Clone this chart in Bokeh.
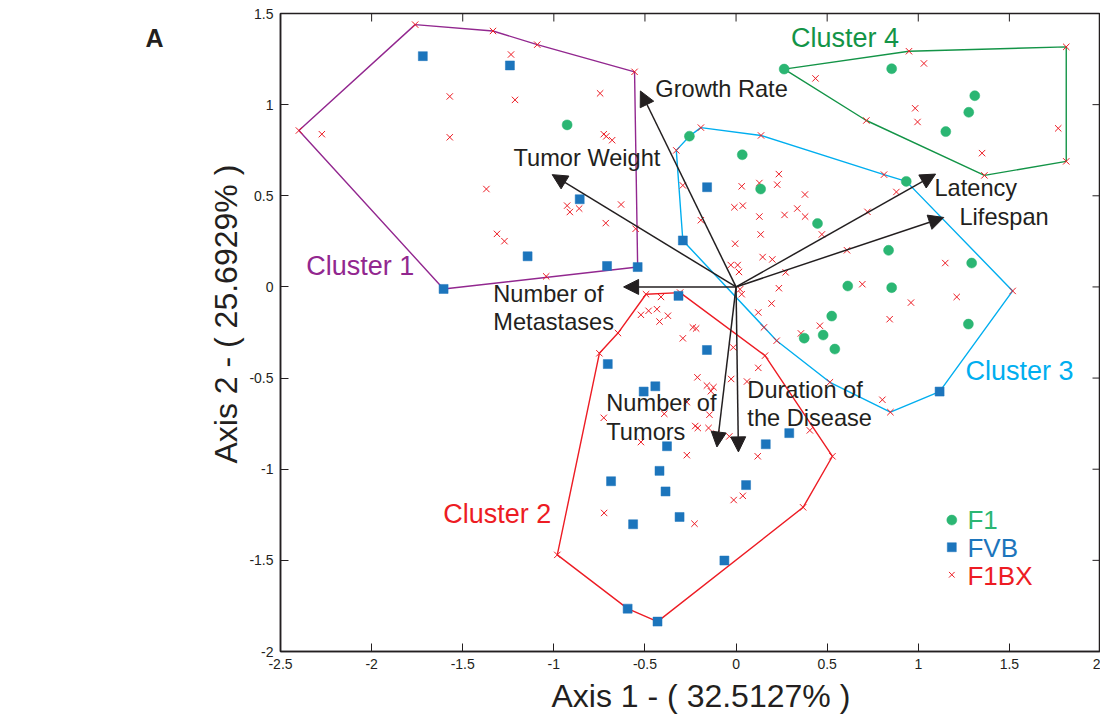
import math
from bokeh.plotting import figure
from bokeh.models import (Range1d, LinearAxis, FixedTicker, Label, Arrow, NormalHead,
                          ColumnDataSource, Title)
from bokeh.embed import file_html
from bokeh.resources import INLINE

FONT = "Liberation Sans"
INK = "#231f20"

# ---------------- data ----------------
x_ticks = [-2.5, -2, -1.5, -1, -0.5, 0, 0.5, 1, 1.5, 2]
x_tick_labels = ["-2.5", "-2", "-1.5", "-1", "-0.5", "0", "0.5", "1", "1.5", "2"]
y_ticks = [-2, -1.5, -1, -0.5, 0, 0.5, 1, 1.5]
y_tick_labels = ["-2", "-1.5", "-1", "-0.5", "0", "0.5", "1", "1.5"]

x_title = "Axis 1 - ( 32.5127% )"
y_title = "Axis 2 - ( 25.6929% )"
panel_letter = "A"

groups = ["F1", "FVB", "F1BX"]

f1_x = [-0.927, 0.264, 0.854, 1.310, 1.277, 1.151, 0.934, -0.256, 0.034, 0.135,
        0.447, 0.837, 1.293, 0.613, 0.854, 0.525, 0.478, 0.374, 0.542, 1.275]
f1_y = [0.889, 1.195, 1.197, 1.049, 0.958, 0.852, 0.579, 0.827, 0.725, 0.537,
        0.348, 0.201, 0.131, 0.005, -0.004, -0.160, -0.264, -0.281, -0.341, -0.204]

fvb_x = [-1.719, -1.241, -0.858, -1.144, -0.708, -0.540, -1.605, -0.159, -0.292, -0.316,
         -0.160, -0.704, -0.443, -0.507, -0.379, 0.163, 0.292, -0.420, -0.686, -0.387,
         0.055, -0.565, -0.310, -0.064, -0.431, -0.595, 1.117]
fvb_y = [1.266, 1.215, 0.481, 0.168, 0.115, 0.109, -0.011, 0.547, 0.255, -0.049,
         -0.346, -0.423, -0.545, -0.574, -0.874, -0.863, -0.802, -1.009, -1.066, -1.122,
         -1.087, -1.302, -1.262, -1.501, -1.836, -1.765, -0.574]

f1bx_xy = [
    (-1.761, 1.439), (-1.334, 1.404), (-1.091, 1.329), (-0.557, 1.180), (-2.399, 0.858),
    (-1.235, 1.275), (-1.571, 1.045), (-1.213, 1.026), (-0.746, 1.062), (-2.273, 0.838),
    (-1.571, 0.821), (-0.726, 0.838), (-0.712, 0.826), (-0.680, 0.805), (-1.370, 0.537),
    (-0.927, 0.446), (-0.912, 0.411), (-0.861, 0.430), (-0.631, 0.452), (-0.715, 0.350),
    (-0.551, 0.319), (-1.312, 0.291), (-1.271, 0.251), (-1.042, 0.058),
    (0.949, 1.293), (1.812, 1.317), (1.812, 0.689), (1.363, 0.612), (0.715, 0.913),
    (1.031, 1.226), (0.983, 0.980), (0.996, 0.905), (1.768, 0.870), (1.350, 0.734),
    (0.436, 1.144),
    (0.812, 0.616), (0.137, 0.831), (-0.193, 0.874), (-0.328, 0.749), (1.518, -0.022),
    (0.847, -0.687), (0.515, -0.523), (0.223, -0.295), (0.880, 0.521), (0.128, 0.570),
    (0.235, 0.619), (0.226, 0.561), (0.031, 0.552), (0.037, 0.446), (0.378, 0.507),
    (0.336, 0.430), (0.266, 0.395), (0.379, 0.386), (0.128, 0.386), (0.471, 0.288),
    (0.135, 0.288), (0.721, 0.412), (0.609, 0.201), (0.146, 0.164), (0.199, 0.151),
    (0.272, 0.080), (1.148, 0.131), (0.693, 0.015), (0.960, -0.086), (1.211, -0.055),
    (0.843, -0.177), (0.460, -0.213), (0.356, -0.255), (0.803, -0.619), (0.235, -0.007),
    (0.195, -0.091), (0.122, -0.140), (0.153, -0.222), (-0.292, 0.557), (-0.009, 0.437),
    (-0.193, 0.366), (-0.005, 0.237), (-0.029, 0.120), (0.009, 0.120), (0.016, 0.082),
    (0.022, -0.013), (0.031, -0.040),
    (-0.494, -0.040), (-0.307, -0.031), (0.159, -0.377), (0.529, -0.929), (0.368, -1.209),
    (-0.981, -1.470), (-0.750, -0.364), (-0.648, -0.253), (-0.412, -0.055), (-0.522, -0.153),
    (-0.480, -0.131), (-0.434, -0.122), (-0.420, -0.190), (-0.374, -0.158), (-0.237, -0.222),
    (-0.219, -0.228), (-0.292, -0.282), (-0.015, -0.332), (0.122, -0.444), (-0.027, -0.505),
    (0.060, -0.519), (-0.212, -0.496), (-0.160, -0.541), (-0.124, -0.550), (-0.138, -0.572),
    (-0.270, -0.632), (-0.394, -0.696), (-0.146, -0.701), (-0.726, -0.718), (-0.224, -0.763),
    (-0.210, -0.774), (-0.151, -0.774), (-0.106, -0.805), (-0.037, -0.820), (-0.522, -0.851),
    (-0.270, -0.923), (0.119, -0.929), (0.405, -0.787), (0.037, -1.146), (-0.013, -1.169),
    (-0.724, -1.240), (-0.228, -1.299),
]
f1bx_x = [p_[0] for p_ in f1bx_xy]
f1bx_y = [p_[1] for p_ in f1bx_xy]

cluster_names = ["Cluster 1", "Cluster 2", "Cluster 3", "Cluster 4"]
hull_x = [
    [-1.761, -1.334, -1.091, -0.557, -0.540, -1.605, -2.399],
    [-0.494, -0.307, 0.159, 0.529, 0.368, -0.431, -0.595, -0.981, -0.750, -0.648],
    [-0.292, 0.223, 0.515, 0.847, 1.117, 1.518, 0.934, 0.812, 0.137, -0.193, -0.256, -0.328],
    [0.264, 0.949, 1.812, 1.812, 1.363, 0.715],
]
hull_y = [
    [1.439, 1.404, 1.329, 1.180, 0.109, -0.011, 0.858],
    [-0.040, -0.031, -0.377, -0.929, -1.209, -1.836, -1.765, -1.470, -0.364, -0.253],
    [0.255, -0.295, -0.523, -0.687, -0.574, -0.022, 0.579, 0.616, 0.831, 0.874, 0.827, 0.749],
    [1.195, 1.293, 1.317, 0.689, 0.612, 0.913],
]

variables = ["Growth Rate", "Tumor Weight", "Number of\nMetastases", "Latency",
             "Lifespan", "Number of\nTumors", "Duration of\nthe Disease"]
loading_x = [-0.525, -1.009, -0.617, 1.095, 1.140, -0.105, 0.013]
loading_y = [1.075, 0.616, 0.000, 0.619, 0.381, -0.878, -0.905]

# ---------------- styles / layout ----------------
C_F1 = "#2bb673"
C_FVB = "#1c75bc"
C_F1BX = "#ed1c24"
cluster_colors = ["#92278f", "#ed1c24", "#00aeef", "#139447"]
cluster_label_pos = [(-2.359, 0.113), (-1.607, -1.244), (1.259, -0.461), (0.301, 1.366)]
var_label_pos = [(-0.443, 1.087), (-1.221, 0.706), (-1.332, -0.037), (1.089, 0.541),
                 (1.226, 0.382), (-0.712, -0.637), (0.062, -0.565)]

x_rng = Range1d(-2.5, 2)
y_rng = Range1d(-2, 1.5)

p = figure(frame_width=820, frame_height=638, x_range=x_rng, y_range=y_rng,
           output_backend="svg", toolbar_location=None,
           min_border_left=280, min_border_right=0, min_border_top=13, min_border_bottom=70)
p.grid.visible = False
p.outline_line_color = INK
p.outline_line_width = 1.5
p.background_fill_color = "white"
p.border_fill_color = "white"

p.xaxis.ticker = FixedTicker(ticks=x_ticks)
p.xaxis.major_label_overrides = dict(zip(x_ticks, x_tick_labels))
p.yaxis.ticker = FixedTicker(ticks=y_ticks)
p.yaxis.major_label_overrides = dict(zip(y_ticks, y_tick_labels))
for ax in p.axis:
    ax.major_tick_in = 8
    ax.major_tick_out = 0
    ax.minor_tick_line_color = None
    ax.axis_line_color = INK
    ax.axis_line_width = 1.5
    ax.major_tick_line_color = INK
    ax.major_tick_line_width = 1
    ax.major_label_text_font = FONT
    ax.major_label_text_font_size = "14px"
    ax.major_label_text_color = INK
    ax.major_label_standoff = 7

# axis titles as side titles, placed like the original (slightly off-centre)
p.add_layout(Title(text=x_title, align="left", offset=271, standoff=8,
                   text_font=FONT, text_font_size="32px", text_font_style="normal",
                   text_color=INK), "below")
p.add_layout(Title(text=y_title, align="left", offset=188, standoff=5,
                   text_font=FONT, text_font_size="32px", text_font_style="normal",
                   text_color=INK), "left")

# panel letter, carried by an outer left axis with a single labelled tick
letter_y = 1.366
ax_letter = LinearAxis(ticker=FixedTicker(ticks=[letter_y]),
                       major_label_overrides={letter_y: panel_letter},
                       axis_line_color=None, major_tick_line_color=None,
                       minor_tick_line_color=None, major_tick_in=0, major_tick_out=0,
                       major_label_standoff=40, major_label_text_font=FONT,
                       major_label_text_font_size="25px", major_label_text_font_style="bold",
                       major_label_text_color=INK)
p.add_layout(ax_letter, "left")

# inward ticks on the top and right edges of the box
p.ray(x=x_ticks, y=[y_rng.end] * len(x_ticks), length=8, length_units="screen",
      angle=-math.pi / 2, line_color=INK, line_width=1)
p.ray(x=[x_rng.end] * len(y_ticks), y=y_ticks, length=8, length_units="screen",
      angle=math.pi, line_color=INK, line_width=1)

# hulls
for hx, hy, col in zip(hull_x, hull_y, cluster_colors):
    p.line(hx + hx[:1], hy + hy[:1], line_color=col, line_width=1.4)

# points
p.scatter(f1bx_x, f1bx_y, marker="x", size=9, line_color=C_F1BX, line_width=1)
p.scatter(fvb_x, fvb_y, marker="square", size=9, fill_color=C_FVB, line_color=C_FVB, line_width=0.5)
p.scatter(f1_x, f1_y, marker="circle", size=10, fill_color=C_F1, line_color=C_F1, line_width=0.5)

# loadings arrows
asrc = ColumnDataSource(dict(x0=[0.0] * len(loading_x), y0=[0.0] * len(loading_y),
                             x1=loading_x, y1=loading_y))
p.add_layout(Arrow(x_start="x0", y_start="y0", x_end="x1", y_end="y1", source=asrc,
                   line_color=INK, line_width=1.5,
                   end=NormalHead(size=15, fill_color=INK, line_color=INK, line_width=1)))

for name, (lx, ly) in zip(variables, var_label_pos):
    for i, line in enumerate(name.split("\n")):
        p.add_layout(Label(x=lx, y=ly, y_offset=-28.5 * i, text=line, text_font=FONT,
                           text_font_size="23.6px", text_color=INK,
                           text_align="left", text_baseline="alphabetic"))

for name, (lx, ly), col in zip(cluster_names, cluster_label_pos, cluster_colors):
    p.add_layout(Label(x=lx, y=ly, text=name, text_font=FONT, text_font_size="27px",
                       text_color=col, text_align="left", text_baseline="alphabetic"))

# legend (manual, coloured text)
leg_colors = [C_F1, C_FVB, C_F1BX]
leg_markers = ["circle", "square", "x"]
leg_sizes = [10, 9, 8]
leg_mx = 1.184
leg_my = [-1.279, -1.428, -1.579]
leg_ty = [-1.280, -1.430, -1.586]
for g, c, m, s, my, ty in zip(groups, leg_colors, leg_markers, leg_sizes, leg_my, leg_ty):
    if m == "x":
        p.scatter([leg_mx], [my], marker=m, size=s, line_color=c, line_width=1)
    else:
        p.scatter([leg_mx], [my], marker=m, size=s, fill_color=c, line_color=c, line_width=0.5)
    p.add_layout(Label(x=1.270, y=ty, text=g, text_font=FONT, text_font_size="26px",
                       text_color=c, text_align="left", text_baseline="alphabetic"))

open("out.html", "w").write(file_html(p, INLINE))
